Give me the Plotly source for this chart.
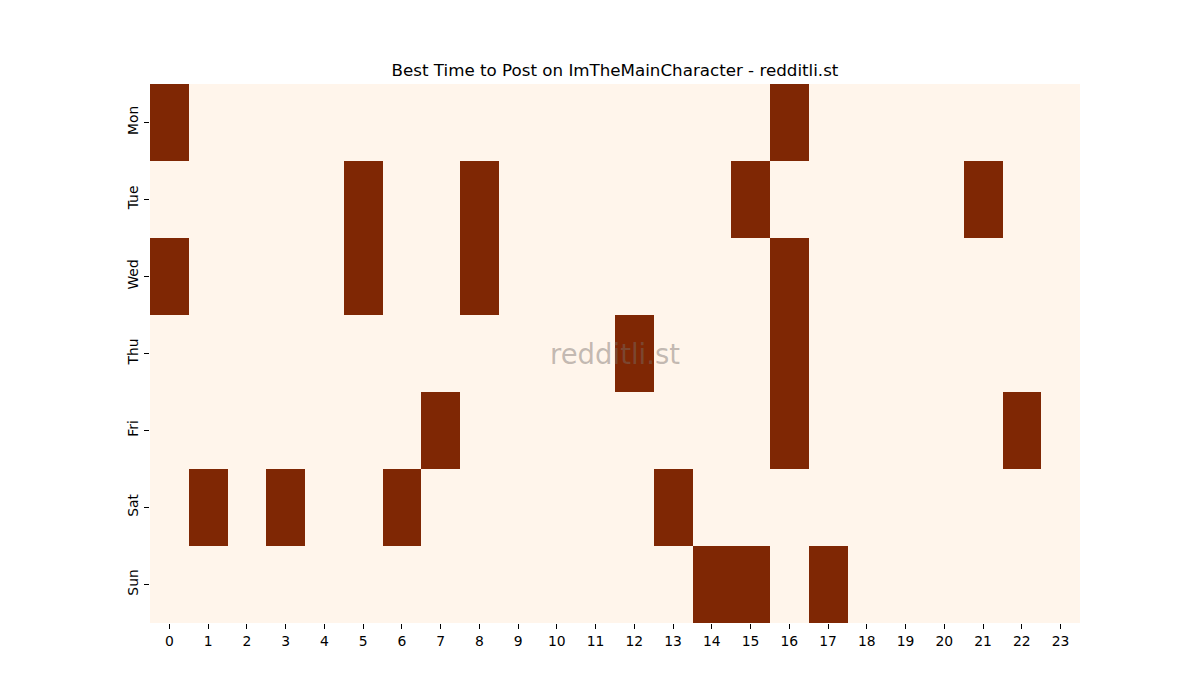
import plotly.graph_objects as go

days = ["Mon", "Tue", "Wed", "Thu", "Fri", "Sat", "Sun"]
hours = list(range(24))
best_hours = {
    "Mon": [0, 16],
    "Tue": [5, 8, 15, 21],
    "Wed": [0, 5, 8, 16],
    "Thu": [12, 16],
    "Fri": [7, 16, 22],
    "Sat": [1, 3, 6, 13],
    "Sun": [14, 15, 17],
}

z = [[1 if h in best_hours[d] else 0 for h in hours] for d in days]

fig = go.Figure(go.Heatmap(
    z=z, x=hours, y=days,
    colorscale=[[0, "#fff5eb"], [1, "#7f2704"]],
    showscale=False, zmin=0, zmax=1,
    hoverinfo="skip",
))

font = "DejaVu Sans, sans-serif"
fig.update_layout(
    width=1200, height=700,
    margin=dict(l=150, r=120, t=84, b=77),
    paper_bgcolor="white", plot_bgcolor="white",
    title=dict(text="Best Time to Post on ImTheMainCharacter - redditli.st",
               x=0.5, xref="paper", xanchor="center", y=1 - 70 / 700, yanchor="middle",
               font=dict(family=font, size=16.7, color="black")),
    font=dict(family=font, size=13.9, color="black"),
    xaxis=dict(tickmode="array", tickvals=hours, ticktext=[str(h) for h in hours],
               range=[-0.5, 23.5], showgrid=False, zeroline=False,
               ticks="outside", ticklen=5, tickcolor="black", showline=False),
    yaxis=dict(categoryorder="array", categoryarray=days, autorange="reversed",
               showgrid=False, zeroline=False, tickangle=-90,
               ticks="outside", ticklen=5, tickcolor="black", showline=False),
    annotations=[dict(text="redditli.st", x=0.5, y=0.5, xref="paper", yref="paper",
                      showarrow=False,
                      font=dict(family=font, size=27.5, color="rgba(120,110,105,0.45)"))],
)

fig.write_html("out.html")
